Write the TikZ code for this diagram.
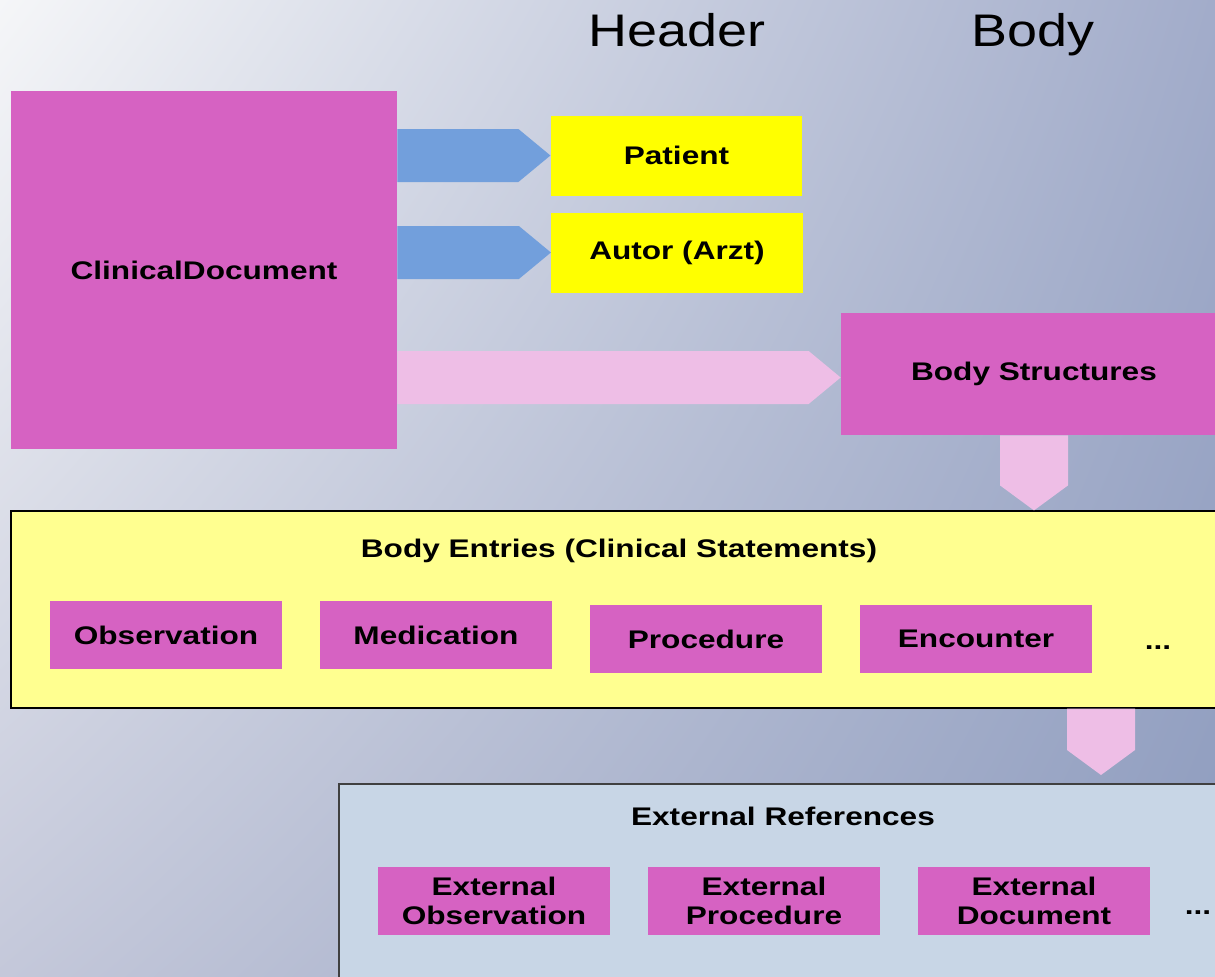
\documentclass[tikz,border=0pt]{standalone}
\usepackage{fontspec}
\setmainfont[FakeStretch=1.24]{Liberation Sans}
\newfontfamily\hdfont[FakeStretch=1.18]{Liberation Sans}
\usetikzlibrary{calc}
\usetikzlibrary{positioning}
\usetikzlibrary{shadings}

\definecolor{cdmag}{HTML}{D662C2}
\definecolor{cdyel}{HTML}{FFFF00}
\definecolor{cdpale}{HTML}{FFFF90}
\definecolor{cdext}{HTML}{C8D6E6}
\definecolor{cdblue}{HTML}{729FDC}
\definecolor{cdpink}{HTML}{EEBEE6}
\definecolor{bgA}{HTML}{F5F6F8}
\definecolor{bgB}{HTML}{A2ACCA}
\definecolor{bgC}{HTML}{C4C8DA}
\definecolor{bgD}{HTML}{8E9CBE}

\newcommand{\lbl}{\fontsize{14.5}{16.5}\selectfont\bfseries}
\newcommand{\ttl}{\hdfont\fontsize{26}{30}\selectfont}

% block arrows: #1 colour, #2 start, #3 tip
\newcommand{\harrow}[3]{%
  \fill[#1] ($(#2)+(0,0.53)$) -- ($(#3)+(-0.64,0.53)$) -- (#3)
    -- ($(#3)+(-0.64,-0.53)$) -- ($(#2)+(0,-0.53)$) -- cycle;}
\newcommand{\varrow}[3]{%
  \fill[#1] ($(#2)+(-0.68,0)$) -- ($(#3)+(-0.68,0.5)$) -- (#3)
    -- ($(#3)+(0.68,0.5)$) -- ($(#2)+(0.68,0)$) -- cycle;}

\tikzset{
  magbox/.style={fill=cdmag, inner sep=0pt, align=center, font=\lbl,
    minimum width=4.64cm, minimum height=1.36cm},
  yelbox/.style={fill=cdyel, inner sep=0pt, align=center, font=\lbl,
    minimum width=5.03cm, minimum height=1.6cm},
  frame/.style={inner sep=0pt, line width=0.7pt}
}

\begin{document}
\begin{tikzpicture}
		% background
		\shade[upper left=bgA, upper right=bgB, lower left=bgC, lower right=bgD]
			(0,0) rectangle (24.3,-19.54);
		\useasboundingbox (0,0) rectangle (24.3,-19.54);
		\node[font=\ttl, anchor=base] (H) at (13.54,-0.92) {Header};
		\node[font=\ttl, anchor=base] (B) at (20.66,-0.92) {Body};
		% header part
		\node[magbox, minimum width=7.72cm, minimum height=7.16cm] (doc) at (4.08,-5.40) {ClinicalDocument};
		\node[yelbox] (pat) at (13.53,-3.11) {Patient};
		\node[yelbox] (aut) at (13.54,-5.05) {Autor (Arzt)};
		\node[magbox, minimum width=7.72cm, minimum height=2.44cm] (bs) at (20.68,-7.48) {Body Structures};
		% body entries
		\node[frame, draw=black, fill=cdpale, minimum width=24.32cm, minimum height=3.94cm] (entries) at (12.38,-12.19) {};
		\node[font=\lbl] (entt) at (12.38,-11.02) {Body Entries (Clinical Statements)};
		\node[magbox] (obs) at (3.32,-12.70) {Observation};
		\node[magbox] (med) at (8.72,-12.70) {Medication};
		\node[magbox] (proc) at (14.12,-12.78) {Procedure};
		\node[magbox] (enc) at (19.52,-12.78) {Encounter};
		\node[font=\lbl] (more) at (23.16,-12.95) {...};
		% external references
		\node[frame, draw=black!75, fill=cdext, minimum width=17.76cm, minimum height=4.12cm] (ext) at (15.66,-17.74) {};
		\node[font=\lbl] (extt) at (15.66,-16.32) {External References};
		\node[magbox] (xobs) at (9.88,-18.02) {External\\Observation};
		\node[magbox] (xproc) at (15.28,-18.02) {External\\Procedure};
		\node[magbox] (xdoc) at (20.68,-18.02) {External\\Document};
		\node[font=\lbl] (xmore) at (23.96,-18.25) {...};
		% connectors
		\coordinate (s1) at (doc.east |- pat.west);
		\coordinate (s2) at (doc.east |- aut.west);
		\coordinate (s3) at (doc.east |- bs.west);
		\coordinate (t3) at ($(bs.west)+(0,-0.07)$);
		\coordinate (s3b) at ($(s3)+(0,-0.07)$);
		\coordinate (t4) at (entries.north -| bs.south);
		\coordinate (t5) at (22.02,-15.5);
		\coordinate (s5) at (entries.south -| t5);
		\harrow{cdblue}{s1}{pat.west}
		\harrow{cdblue}{s2}{aut.west}
		\harrow{cdpink}{s3b}{t3}
		\varrow{cdpink}{bs.south}{t4}
		\varrow{cdpink}{s5}{t5}
		\end{tikzpicture}
\end{document}
